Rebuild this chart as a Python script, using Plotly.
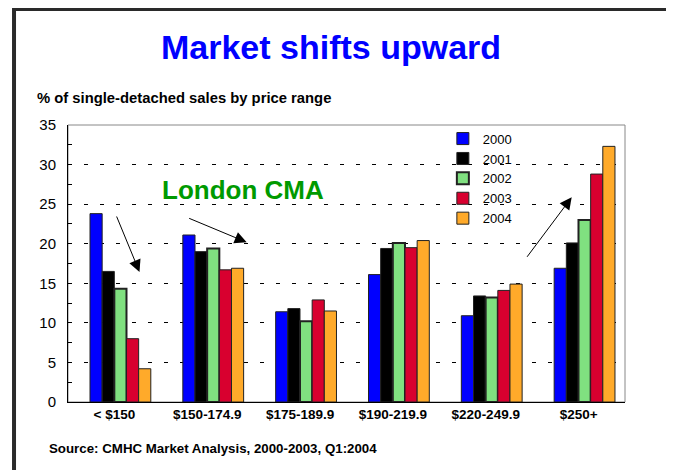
import plotly.graph_objects as go

# price ranges ($000) and share of single-detached sales (%)
price_ranges = ["< $150", "$150-174.9", "$175-189.9", "$190-219.9", "$220-249.9", "$250+"]
years = ["2000", "2001", "2002", "2003", "2004"]

sales_2000 = [23.8, 21.1, 11.4, 16.1, 10.9, 16.9]
sales_2001 = [16.5, 19.0, 11.8, 19.4, 13.4, 20.1]
sales_2002 = [14.3, 19.4, 10.2, 20.1, 13.2, 23.0]
sales_2003 = [8.0, 16.7, 12.9, 19.5, 14.1, 28.8]
sales_2004 = [4.2, 16.9, 11.5, 20.4, 14.9, 32.3]

series = [sales_2000, sales_2001, sales_2002, sales_2003, sales_2004]
colors = ["#0000FF", "#000000", "#80E080", "#D8002F", "#FFAA2A"]

FONT = "Arial, Liberation Sans, sans-serif"

fig = go.Figure()

bar_w = 0.131
for i, (year, vals) in enumerate(zip(years, series)):
    # 2002 bars get a heavier outline, like in the slide
    edge = 2 if year == "2002" else 1
    fig.add_trace(go.Bar(
        x=price_ranges,
        y=vals,
        name=year,
        width=bar_w,
        offset=-0.263 + i * bar_w,
        marker=dict(color=colors[i], line=dict(color="#222222", width=edge)),
    ))

# page body adds ~8px margin, so the figure is a bit smaller than the window
fig.update_layout(
    width=666,
    height=462,
    margin=dict(l=60, r=49, t=117, b=68),
    paper_bgcolor="white",
    plot_bgcolor="white",
    barmode="overlay",
    font=dict(family=FONT, color="black"),
    showlegend=True,
    legend=dict(
        x=0.673, y=1.005, xanchor="left", yanchor="top",
        font=dict(size=13, family=FONT),
        bgcolor="rgba(0,0,0,0)",
        tracegroupgap=0,
    ),
)

fig.update_xaxes(
    type="category",
    showline=True, linecolor="black", linewidth=1,
    showgrid=False, ticks="",
    tickfont=dict(size=13.5, family=FONT, weight="bold"),
)

fig.update_yaxes(
    range=[0, 35], dtick=5,
    showline=True, linecolor="black", linewidth=1,
    showgrid=True, gridcolor="black", gridwidth=1, griddash="4px,12px",
    zeroline=False,
    ticks="inside", ticklen=4, tickcolor="black",
    minor=dict(ticks="inside", dtick=2.5, ticklen=4, tickcolor="black", showgrid=False),
    tickfont=dict(size=15, family=FONT),
    ticklabelstandoff=8,
)

# plot box (grey on top/right) and slide frame
fig.add_shape(type="rect", xref="paper", yref="paper", x0=0, x1=1, y0=0, y1=1,
              line=dict(color="#888888", width=1), layer="below")
fig.add_shape(type="rect", xref="paper", yref="paper",
              x0=-0.0969, x1=1.0808, y0=-0.2816, y1=1.4188,
              line=dict(color="#2a2a2a", width=4))

# texts
fig.add_annotation(text="<b>Market shifts upward</b>", xref="paper", yref="paper",
                   x=0.4722, y=1.2816, xanchor="center", yanchor="middle", showarrow=False,
                   font=dict(size=34, color="#0000FF", family=FONT))
fig.add_annotation(text="<b>% of single-detached sales by price range</b>", xref="paper", yref="paper",
                   x=-0.0592, y=1.0975, xanchor="left", yanchor="middle", showarrow=False,
                   font=dict(size=14.8, color="black", family=FONT))
fig.add_annotation(text="<b>Source: CMHC Market Analysis, 2000-2003, Q1:2004</b>", xref="paper", yref="paper",
                   x=-0.0377, y=-0.1661, xanchor="left", yanchor="middle", showarrow=False,
                   font=dict(size=13.3, color="black", family=FONT))
fig.add_annotation(text="<b>London CMA</b>", xref="paper", yref="paper",
                   x=0.3142, y=0.7653, xanchor="center", yanchor="middle", showarrow=False,
                   font=dict(size=26, color="#009A00", family=FONT))

# trend arrows
arrows = [
    (0.1284, 0.4693, -23.5, -57),
    (0.3208, 0.5765, -59, -24.6),
    (0.9043, 0.7390, -45.7, 61),
]
for hx, hy, ax, ay in arrows:
    fig.add_annotation(text="", xref="paper", yref="paper", x=hx, y=hy, ax=ax, ay=ay,
                       showarrow=True, arrowhead=2, arrowsize=2.4, arrowwidth=1,
                       arrowcolor="black")

fig.write_html("out.html")
